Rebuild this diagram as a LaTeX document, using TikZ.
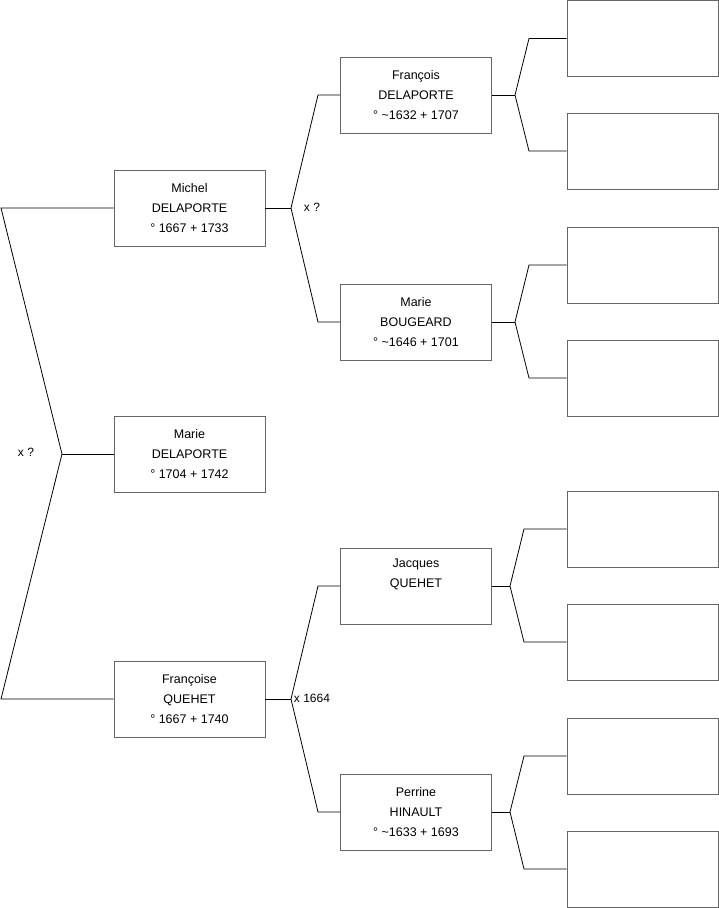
\documentclass[tikz,border=0pt]{standalone}
\usepackage{fontspec}
\setmainfont{Liberation Sans}
\begin{document}
\begin{tikzpicture}[x=1pt,y=-1pt,
  person/.style={draw=black!60,line width=0.9pt,fill=white,minimum width=151pt,minimum height=76pt,inner sep=0pt,align=center,font=\fontsize{12.5}{20}\selectfont},
  link/.style={draw=black,line width=0.8pt,line join=miter},
  lbl/.style={font=\fontsize{12}{14}\selectfont,inner sep=0pt}]
\useasboundingbox (0,0) rectangle (719,908);
% generation 1 and 2
\node[person] (marie) at (189.5,454) {Marie\\DELAPORTE\\° 1704 + 1742};
\node[person] (michel) at (189.5,208) {Michel\\DELAPORTE\\° 1667 + 1733};
\node[person] (francoise) at (189.5,699) {Françoise\\QUEHET\\° 1667 + 1740};
% generation 3
\node[person] (francois) at (416,95) {François\\DELAPORTE\\° \textasciitilde1632 + 1707};
\node[person] (mbougeard) at (416,322) {Marie\\BOUGEARD\\° \textasciitilde1646 + 1701};
\node[person] (jacques) at (416,586) {Jacques\\QUEHET\\\strut};
\node[person] (perrine) at (416,812) {Perrine\\HINAULT\\° \textasciitilde1633 + 1693};
% generation 4
\node[person] (p1) at (642.5,38.5) {};
\node[person] (p2) at (642.5,151) {};
\node[person] (p3) at (642.5,265) {};
\node[person] (p4) at (642.5,378) {};
\node[person] (p5) at (642.5,529) {};
\node[person] (p6) at (642.5,642) {};
\node[person] (p7) at (642.5,756) {};
\node[person] (p8) at (642.5,869) {};
% junction coordinates
\coordinate (j0) at (62,454);
\coordinate (a0) at (1,208);
\coordinate (b0) at (1,699);
\coordinate (j1) at (291,208);
\coordinate (a1) at (318,95);
\coordinate (b1) at (318,322);
\coordinate (j2) at (291,699);
\coordinate (a2) at (318,586);
\coordinate (b2) at (318,812);
\coordinate (j3) at (515,95);
\coordinate (a3) at (529,38.5);
\coordinate (b3) at (529,151);
\coordinate (j4) at (515,322);
\coordinate (a4) at (529,265);
\coordinate (b4) at (529,378);
\coordinate (j5) at (510,586);
\coordinate (a5) at (524,529);
\coordinate (b5) at (524,642);
\coordinate (j6) at (510,812);
\coordinate (a6) at (524,756);
\coordinate (b6) at (524,869);
% connectors
\draw[link] (marie.west) -- (j0);
\draw[link] (michel.west) -- (a0) -- (j0) -- (b0) -- (francoise.west);
\draw[link] (michel.east) -- (j1);
\draw[link] (francois.west) -- (a1) -- (j1) -- (b1) -- (mbougeard.west);
\draw[link] (francoise.east) -- (j2);
\draw[link] (jacques.west) -- (a2) -- (j2) -- (b2) -- (perrine.west);
\draw[link] (francois.east) -- (j3);
\draw[link] (p1.west) -- (a3) -- (j3) -- (b3) -- (p2.west);
\draw[link] (mbougeard.east) -- (j4);
\draw[link] (p3.west) -- (a4) -- (j4) -- (b4) -- (p4.west);
\draw[link] (jacques.east) -- (j5);
\draw[link] (p5.west) -- (a5) -- (j5) -- (b5) -- (p6.west);
\draw[link] (perrine.east) -- (j6);
\draw[link] (p7.west) -- (a6) -- (j6) -- (b6) -- (p8.west);
% marriage labels
\node[lbl] (m0) at (26,452) {x ?};
\node[lbl] (m1) at (312,207) {x ?};
\node[lbl] (m2) at (312,698) {x 1664};
\end{tikzpicture}
\end{document}
